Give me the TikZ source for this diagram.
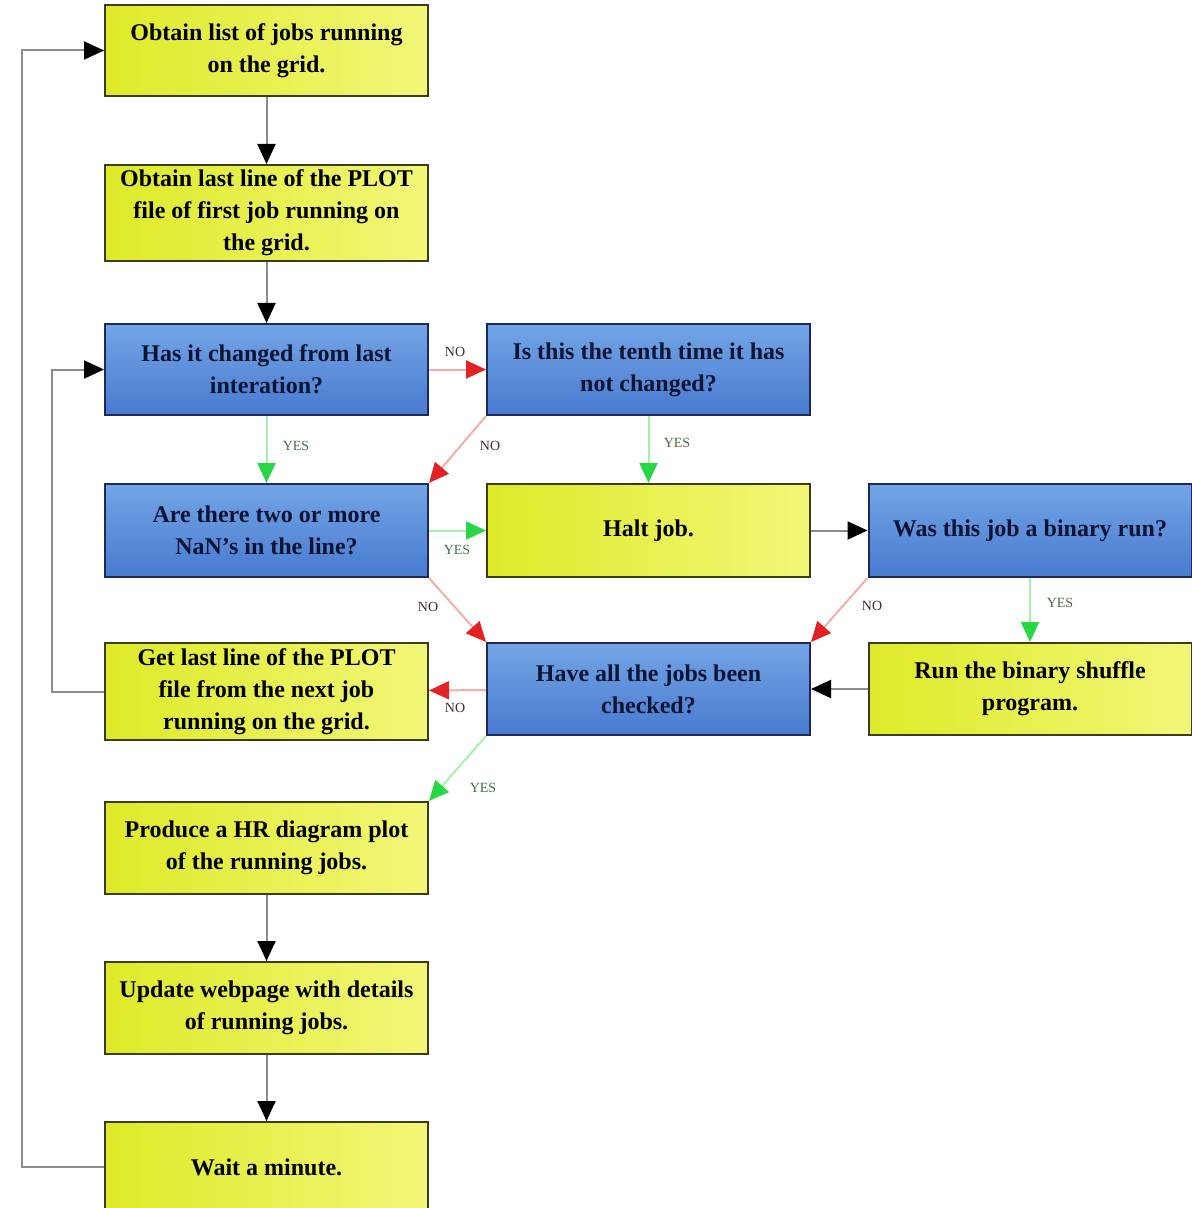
\documentclass[tikz,border=0pt]{standalone}
\usepackage{fontspec}
\setmainfont{Liberation Serif}
\usetikzlibrary{arrows.meta}
\definecolor{yboxc}{RGB}{222,234,40}
\definecolor{ylight}{RGB}{242,247,120}
\definecolor{bdark}{RGB}{72,122,208}
\definecolor{blight}{RGB}{115,165,230}
\definecolor{rhead}{RGB}{225,35,35}
\definecolor{rline}{RGB}{240,175,175}
\definecolor{ghead}{RGB}{40,215,70}
\definecolor{gline}{RGB}{170,238,175}
\definecolor{kline}{RGB}{140,140,140}
\definecolor{ydraw}{RGB}{60,60,25}
\definecolor{bdraw}{RGB}{30,40,90}
\definecolor{btext}{RGB}{10,20,50}
\definecolor{ylab}{RGB}{70,110,70}
\definecolor{nlab}{RGB}{60,45,45}
\begin{document}
\begin{tikzpicture}[x=0.5pt,y=-0.5pt,
 box/.style={line width=1pt, minimum width=161.5pt, minimum height=46pt, align=center, inner sep=1pt, font=\fontsize{12}{16}\selectfont\bfseries},
 ybox/.style={box, left color=yboxc, right color=ylight, draw=ydraw, text=black},
 bbox/.style={box, top color=blight, bottom color=bdark, draw=bdraw, text=btext},
 karr/.style={draw=kline, line width=1pt, -{Triangle[length=10pt,width=9pt,color=black]}},
 rarr/.style={draw=rline, line width=1pt, -{Triangle[length=10pt,width=9pt,color=rhead]}},
 garr/.style={draw=gline, line width=1pt, -{Triangle[length=10pt,width=9pt,color=ghead]}},
 lab/.style={font=\fontsize{7}{8}\selectfont, inner sep=0pt},
 nolab/.style={lab, text=nlab},
 yeslab/.style={lab, text=ylab}]
\fill[white] (0,0) rectangle (1191,1208);
\useasboundingbox (0,0) rectangle (1191,1208);
% column 1
\node[ybox, minimum height=45.5pt] (B1) at (266.5,50.5) {Obtain list of jobs running\\on the grid.};
\node[ybox, minimum height=48pt] (B2) at (266.5,213) {Obtain last line of the PLOT\\file of first job running on\\the grid.};
\node[bbox, minimum height=45.5pt] (B3) at (266.5,369.5) {Has it changed from last\\interation?};
\node[bbox, minimum height=46.5pt] (B4) at (266.5,530.5) {Are there two or more\\NaN's in the line?};
\node[ybox, minimum height=48.5pt] (B5) at (266.5,691.5) {Get last line of the PLOT\\file from the next job\\running on the grid.};
\node[ybox] (B6) at (266.5,848) {Produce a HR diagram plot\\of the running jobs.};
\node[ybox] (B7) at (266.5,1008) {Update webpage with details\\of running jobs.};
\node[ybox, minimum height=45pt] (B8) at (266.5,1167) {Wait a minute.};
% column 2
\node[bbox, minimum height=45.5pt] (C1) at (648.5,369.5) {Is this the tenth time it has\\not changed?};
\node[ybox, minimum height=46.5pt] (C2) at (648.5,530.5) {Halt job.};
\node[bbox] (C3) at (648.5,689) {Have all the jobs been\\checked?};
% column 3
\node[bbox, minimum height=46.5pt] (D1) at (1030,530.5) {Was this job a binary run?};
\node[ybox] (D2) at (1030,689) {Run the binary shuffle\\program.};
% connectors
\draw[karr] (B1) -- (B2);
\draw[karr] (B2) -- (B3);
\draw[rarr] (B3) -- (C1);
\draw[garr] (B3) -- (B4);
\draw[rarr] (C1.south west) -- (B4.north east);
\draw[garr] (C1) -- (C2);
\draw[garr] (B4) -- (C2);
\draw[rarr] (B4.south east) -- (C3.north west);
\draw[karr] (C2) -- (D1);
\draw[rarr] (D1.south west) -- (C3.north east);
\draw[garr] (D1) -- (D2);
\draw[karr] (D2) -- (C3);
\draw[rarr] (C3) -- (B5);
\draw[garr] (C3.south west) -- (B6.north east);
\draw[karr] (B6) -- (B7);
\draw[karr] (B7) -- (B8);
\coordinate (L1) at (52,691.5);
\coordinate (L2) at (22,1167);
\draw[karr] (B5.west) -- (L1) |- (B3.west);
\draw[karr] (B8.west) -- (L2) |- (B1.west);
% labels
\node[nolab] (n1) at (455,352) {NO};
\node[nolab] (n2) at (490,446) {NO};
\node[nolab] (n3) at (428,607) {NO};
\node[nolab] (n4) at (872,606) {NO};
\node[nolab] (n5) at (455,708) {NO};
\node[yeslab] (y1) at (296,446) {YES};
\node[yeslab] (y2) at (677,443) {YES};
\node[yeslab] (y3) at (457,550) {YES};
\node[yeslab] (y4) at (1060,603) {YES};
\node[yeslab] (y5) at (483,788) {YES};
\end{tikzpicture}
\end{document}
